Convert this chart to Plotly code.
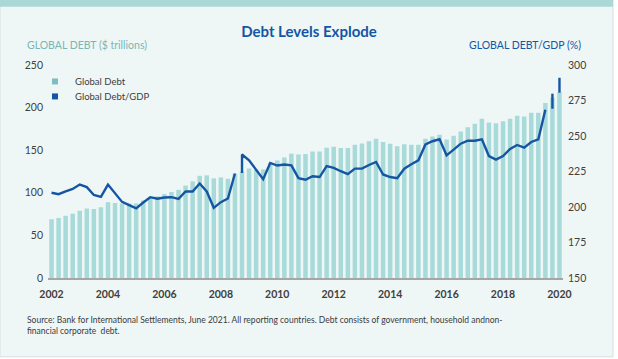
import plotly.graph_objects as go

# ---------------- data ----------------
quarters = []
for y in range(2002, 2021):
    for q in (1, 2, 3, 4):
        if (y == 2002 and q < 4):
            continue
        quarters.append(f"{y}-Q{q}")

global_debt = [
    69, 70.5, 73, 75.5, 79, 81.5, 81, 83, 89, 88,
    87.5, 87.5, 87.5, 91, 95, 96, 98.5, 101, 103.5, 108.5,
    113.5, 120, 120.5, 117, 118, 116.5, 122.5, 125, 128.5, 127.5,
    127.5, 135, 138, 141.5, 146, 145, 145.5, 148.5, 148.5, 153,
    154, 152.5, 152.5, 156.5, 158, 160.5, 163.5, 159.5, 157.5, 154.5,
    157, 156.5, 156.5, 163.5, 166, 168, 162.5, 167, 172, 177,
    181, 187, 182.5, 181.5, 184, 187, 190.5, 189.5, 194, 194,
    205.5, 212, 218,
]

debt_to_gdp = [
    210, 209, 211, 212.7, 215.8, 214, 208.5, 207.1, 215.8, 210,
    203.6, 201.3, 199, 203.2, 206.9, 205.8, 206.7, 206.9, 205.7, 210.9,
    210.9, 216.5, 210.9, 199.4, 203.4, 206, 223.6, 237, 232.9, 226.5,
    219.6, 231, 229.2, 229.9, 229.3, 220.3, 219.2, 221.7, 221.1, 228.8,
    227.5, 225.2, 223.1, 227, 227, 229.6, 231.7, 222.9, 221.1, 220.3,
    227, 230.1, 232.9, 244, 246.3, 247.7, 236.4, 240.4, 244.6, 246.7,
    246.7, 247.7, 235.9, 233.4, 235.9, 240.9, 243.7, 241.8, 245.8, 247.7,
    268.5, 279.8, 291,
]
# quarters where the original line is broken; it restarts with a short
# vertical stroke from this value up to the quarter's own value
line_break_start = {27: 224.0, 71: 269.2, 72: 280.5}

x_tick_labels = [str(y) for y in range(2002, 2021, 2)]
left_ticks = [0, 50, 100, 150, 200, 250]
right_ticks = [150, 175, 200, 225, 250, 275, 300]

# ---------------- build line with breaks ----------------
line_x, line_y = [], []
for i, (q, v) in enumerate(zip(quarters, debt_to_gdp)):
    if i in line_break_start:
        line_x.append(None)
        line_y.append(None)
        line_x.append(q)
        line_y.append(line_break_start[i])
    line_x.append(q)
    line_y.append(v)

# ---------------- geometry helpers ----------------
W, H = 618, 359
ML, MR, MT, MB = 48, 55, 64.5, 81
PW, PH = W - ML - MR, H - MT - MB


def px(x):
    return (x - ML) / PW


def py(y):
    return (H - MB - y) / PH


BAR = "#A9DADA"
BLUE = "#1455A4"
TEAL_TXT = "#78B6B5"
DARK = "#404040"
CARD = "#EFF7F6"
FONT = "Lato"

fig = go.Figure()
fig.add_trace(go.Bar(
    x=quarters, y=global_debt, marker=dict(color=BAR, line=dict(width=0)),
    name="Global Debt", showlegend=False, hoverinfo="x+y",
))
fig.add_trace(go.Scatter(
    x=line_x, y=line_y, yaxis="y2", mode="lines",
    line=dict(color=BLUE, width=2.4), name="Global Debt/GDP",
    showlegend=False, connectgaps=False,
))
# legend entries (square swatches, as in the original)
fig.add_trace(go.Scatter(
    x=[None], y=[None], mode="markers", name="Global Debt",
    marker=dict(symbol="square", size=6, color="#7DBFBE"), legend="legend",
))
fig.add_trace(go.Scatter(
    x=[None], y=[None], mode="markers", name="Global Debt/GDP", yaxis="y2",
    marker=dict(symbol="square", size=6, color=BLUE), legend="legend2",
))

fig.update_layout(
    width=W, height=H,
    margin=dict(l=ML, r=MR, t=MT, b=MB, autoexpand=False),
    paper_bgcolor="white", plot_bgcolor="rgba(0,0,0,0)",
    font=dict(family=FONT, color=DARK, size=10.5),
    bargap=0.36,
    title=dict(text="<b>Debt Levels Explode</b>", x=309 / W, xanchor="center",
               y=1 - 31.5 / H, yanchor="middle",
               font=dict(family=FONT, size=15, color=BLUE)),
    xaxis=dict(
        type="category", tickmode="array", tickvals=quarters[0::8],
        ticktext=x_tick_labels, showgrid=False, zeroline=False,
        showline=True, linecolor="#A6A6A6", linewidth=2, ticks="",
        tickfont=dict(family=FONT, size=10.5, color=DARK, weight="bold"),
        ticklabelstandoff=5,
        range=[-0.5, len(quarters) - 0.5],
    ),
    yaxis=dict(
        range=[0, 250], tickvals=left_ticks, showgrid=False, zeroline=False,
        ticks="", tickfont=dict(family=FONT, size=10.5, color=DARK),
        ticklabelstandoff=4,
    ),
    yaxis2=dict(
        range=[150, 300], tickvals=right_ticks, overlaying="y", side="right",
        showgrid=False, zeroline=False, ticks="",
        tickfont=dict(family=FONT, size=10.5, color=DARK), ticklabelstandoff=4,
    ),
    legend=dict(x=px(35), y=py(81), xanchor="left", yanchor="middle",
                bgcolor="rgba(0,0,0,0)", font=dict(family=FONT, size=9.5, color=DARK),
                itemwidth=30),
    legend2=dict(x=px(35), y=py(96), xanchor="left", yanchor="middle",
                 bgcolor="rgba(0,0,0,0)", font=dict(family=FONT, size=9.5, color=DARK),
                 itemwidth=30),
    shapes=[
        dict(type="rect", xref="paper", yref="paper", layer="below",
             x0=px(0), x1=px(613), y0=py(357), y1=py(-2),
             fillcolor=CARD, line=dict(color="#D9DEDE", width=1)),
        dict(type="rect", xref="paper", yref="paper", layer="below",
             x0=px(0), x1=px(613), y0=py(6), y1=py(-2),
             fillcolor="#A9D8D6", line=dict(width=0)),
    ],
    annotations=[
        dict(text="GLOBAL DEBT ($ trillions)", xref="paper", yref="paper",
             x=px(24.5), y=py(44.5), xanchor="left", yanchor="middle",
             showarrow=False, font=dict(family=FONT, size=10.5, color=TEAL_TXT)),
        dict(text="GLOBAL DEBT/GDP (%)", xref="paper", yref="paper",
             x=px(583), y=py(44.5), xanchor="right", yanchor="middle",
             showarrow=False, font=dict(family=FONT, size=10.5, color=BLUE)),
        dict(text="Source: Bank for International Settlements, June 2021. All reporting countries. "
                  "Debt consists of government, household andnon-<br>financial corporate  debt.",
             xref="paper", yref="paper", x=px(24.5), y=py(325.5), xanchor="left",
             yanchor="middle", align="left", showarrow=False,
             font=dict(family=FONT, size=8.5, color="#3A3A3A")),
    ],
)

fig.write_html("out.html", config={"displayModeBar": False},
               post_script="document.body.style.margin='0';")
